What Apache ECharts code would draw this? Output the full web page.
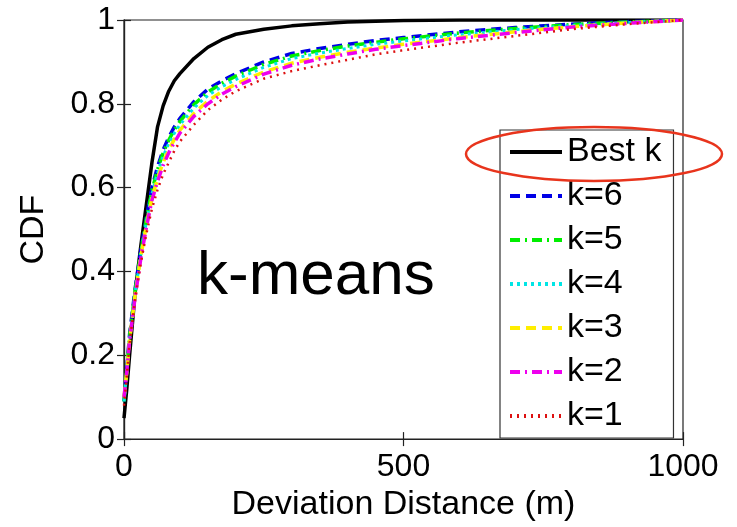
<!DOCTYPE html>
<html>
<head>
<meta charset="utf-8">
<script src="https://cdn.jsdelivr.net/npm/echarts@6/dist/echarts.min.js"></script>
<style>
html,body{margin:0;padding:0;background:#fff;}
#chart{width:737px;height:527px;}
</style>
</head>
<body>
<div id="chart"></div>
<script>
// deviation distance (m)
var distances = [0,5,10,20,30,40,50,60,70,80,90,100,125,150,175,200,250,300,350,400,450,500,600,700,800,900,1000];

// CDF of each method
var bestK = [0.05,0.12,0.2,0.35,0.46,0.56,0.66,0.745,0.795,0.83,0.855,0.872,0.908,0.935,0.953,0.966,0.978,0.986,0.991,0.995,0.997,0.999,1,1,1,1,1];
var k6 = [0.09,0.17,0.25,0.36,0.45,0.53,0.6,0.65,0.69,0.72,0.745,0.765,0.805,0.835,0.855,0.872,0.9,0.92,0.932,0.942,0.951,0.958,0.972,0.982,0.99,0.996,1];
var k5 = [0.09,0.165,0.245,0.355,0.445,0.525,0.593,0.643,0.683,0.713,0.738,0.758,0.798,0.828,0.849,0.866,0.894,0.914,0.927,0.938,0.947,0.955,0.969,0.98,0.989,0.995,1];
var k4 = [0.09,0.16,0.24,0.35,0.44,0.518,0.585,0.635,0.675,0.705,0.73,0.75,0.79,0.82,0.841,0.858,0.887,0.908,0.921,0.932,0.942,0.95,0.965,0.977,0.987,0.994,1];
var k3 = [0.1,0.16,0.235,0.345,0.435,0.51,0.575,0.622,0.66,0.69,0.715,0.737,0.777,0.807,0.829,0.847,0.876,0.897,0.911,0.923,0.933,0.942,0.958,0.972,0.984,0.993,1];
var k2 = [0.1,0.16,0.235,0.34,0.43,0.505,0.57,0.615,0.653,0.683,0.708,0.73,0.77,0.8,0.823,0.841,0.871,0.892,0.907,0.919,0.93,0.939,0.956,0.97,0.983,0.992,1];
var k1 = [0.08,0.15,0.23,0.335,0.42,0.49,0.55,0.595,0.632,0.66,0.688,0.71,0.75,0.785,0.81,0.83,0.86,0.878,0.892,0.905,0.918,0.928,0.946,0.962,0.978,0.99,1];

var xTicks = [0, 500, 1000];
var yTicks = [0, 0.2, 0.4, 0.6, 0.8, 1];

var FONT = '"Liberation Sans", Arial, sans-serif';

// 每条曲线的样式
var lines = [
    {name:'Best k', data:bestK, color:'#000000', width:3.5, type:'solid'},
    {name:'k=6', data:k6, color:'#0000e6', width:3.5, type:[10,6]},
    {name:'k=5', data:k5, color:'#00ee00', width:3.5, type:[10,5,2,5]},
    {name:'k=4', data:k4, color:'#00e5e5', width:3, type:[3,4]},
    {name:'k=3', data:k3, color:'#ffee00', width:3.5, type:[10,6]},
    {name:'k=2', data:k2, color:'#ee00ee', width:3.5, type:[10,5,2,5]},
    {name:'k=1', data:k1, color:'#dd1111', width:2.5, type:[2,5]}
];

function pairs(ys){
    var out = [];
    for(var i=0;i<distances.length;i++){
        out.push([distances[i], ys[i]]);
    }
    return out;
}

var series = [];
var legendData = [];
for(var i=0;i<lines.length;i++){
    var l = lines[i];
    series.push({
        name: l.name,
        type: 'line',
        data: pairs(l.data),
        showSymbol: false,
        symbol: 'none',
        smooth: false,
        xAxisIndex: 0,
        yAxisIndex: 0,
        lineStyle: {color: l.color, width: l.width, type: l.type},
        itemStyle: {color: l.color},
        z: 2 + i
    });
    legendData.push({
        name: l.name,
        lineStyle: {color: l.color, width: 4, type: l.type},
        itemStyle: {opacity: 0}
    });
}

var axisLine = {show: true, lineStyle: {color: '#222', width: 1.2}};
var tick = {show: true, inside: true, length: 7, lineStyle: {color: '#222', width: 1.2}};

var chart = echarts.init(document.getElementById('chart'));
chart.setOption({
    animation: false,
    backgroundColor: '#fff',
    grid: {left: 124, right: 54, top: 20, bottom: 80, show: true, borderColor: '#222', borderWidth: 1.2, containLabel: false},
    xAxis: [{
        type: 'value', min: 0, max: 1000, interval: 500, position: 'bottom',
        name: 'Deviation Distance (m)', nameLocation: 'middle', nameGap: 41,
        nameTextStyle: {fontFamily: FONT, fontSize: 34, color: '#000'},
        axisLine: axisLine, axisTick: tick, splitLine: {show: false},
        axisLabel: {fontFamily: FONT, fontSize: 32, color: '#000', margin: 12,
            formatter: function(v){ return xTicks.indexOf(v) >= 0 ? String(v) : ''; }}
    }, {
        type: 'value', min: 0, max: 1000, interval: 500, position: 'top',
        axisLine: axisLine, axisTick: tick, axisLabel: {show: false}, splitLine: {show: false}
    }],
    yAxis: [{
        type: 'value', min: 0, max: 1, interval: 0.2, position: 'left',
        name: 'CDF', nameLocation: 'middle', nameGap: 73,
        nameTextStyle: {fontFamily: FONT, fontSize: 34, color: '#000'},
        axisLine: axisLine, axisTick: tick, splitLine: {show: false},
        axisLabel: {fontFamily: FONT, fontSize: 32, color: '#000', margin: 9,
            formatter: function(v){
                for(var j=0;j<yTicks.length;j++){ if(Math.abs(yTicks[j]-v) < 1e-9) return String(yTicks[j]); }
                return '';
            }}
    }, {
        type: 'value', min: 0, max: 1, interval: 0.2, position: 'right',
        axisLine: axisLine, axisTick: tick, axisLabel: {show: false}, splitLine: {show: false}
    }],
    legend: {
        orient: 'vertical', left: 500, top: 130,
        data: legendData, selectedMode: false,
        itemWidth: 52, itemHeight: 14, itemGap: 0,
        padding: [0, 12, 0, 8],
        backgroundColor: '#fff', borderColor: '#333', borderWidth: 1.2,
        textStyle: {fontFamily: FONT, fontSize: 34, color: '#000', lineHeight: 44}
    },
    graphic: [{
        type: 'text', left: 197, top: 246, z: 100,
        style: {text: 'k-means', fontFamily: FONT, fontSize: 62, fill: '#000'}
    }, {
        type: 'ellipse', z: 100,
        shape: {cx: 594, cy: 154, rx: 128, ry: 27},
        style: {fill: 'none', stroke: '#e8341c', lineWidth: 2.5}
    }],
    series: series
});
</script>
</body>
</html>
